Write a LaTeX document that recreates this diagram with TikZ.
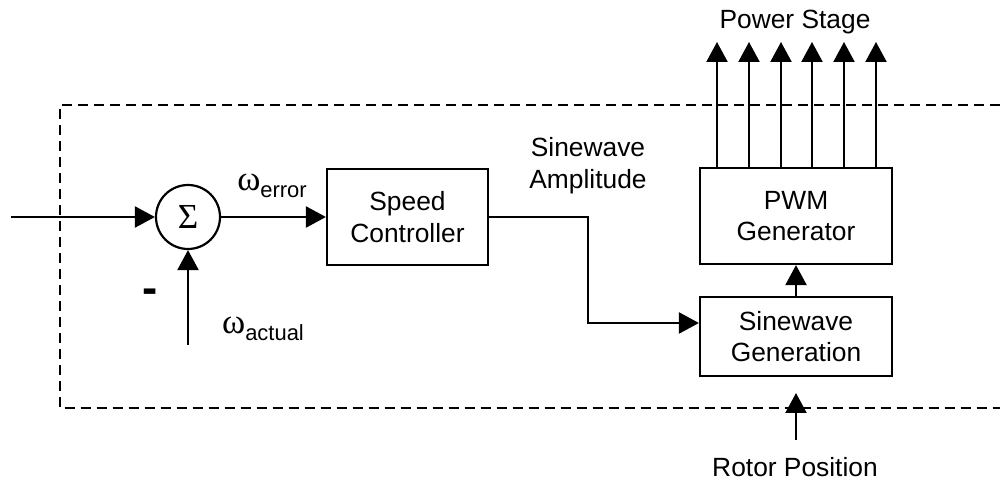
\documentclass[tikz,border=0pt]{standalone}
\usepackage{fontspec}
\setmainfont{Liberation Sans}
\newfontfamily\greekfont{Liberation Serif}
\usetikzlibrary{arrows.meta,positioning}

\begin{document}
\begin{tikzpicture}[x=0.02cm,y=-0.02cm,font=\fontsize{15}{18}\selectfont,
 line width=1.25pt,
 blk/.style={draw,minimum width=3.84cm,minimum height=1.92cm,align=center,inner sep=0pt},
 arr/.style={-{Triangle[length=0.4cm,width=0.42cm]}},
 frame/.style={dashed,dash pattern=on 0.2cm off 0.12cm}]
\useasboundingbox (0,0) rectangle (1000,482);
\draw[frame] (1000,105) -- (60,105) -- (60,408) -- (1000,408);
\node[draw,circle,minimum size=1.28cm,inner sep=0pt,font=\greekfont\fontsize{20}{20}\selectfont] (sum) at (188,217) {Σ};
\node[blk,minimum width=3.22cm] (spd) at (407.5,217) {Speed\\Controller};
\node[blk] (pwm) at (796,216) {PWM\\Generator};
\node[blk,minimum height=1.58cm] (sine) at (796,336.5) {Sinewave\\Generation};
\coordinate (in) at (11,217);
\coordinate (fb) at (188,345);
\coordinate (amp) at (588,323);
\coordinate (rot) at (796,440);
\coordinate (rottip) at (796,393);
\draw[arr] (in) -- (sum);
\draw[arr] (fb) -- (sum);
\draw[arr] (sum) -- (spd);
\draw[arr] (spd.east) -| (amp) -- (sine.west |- amp);
\draw[arr] (sine) -- (pwm);
\draw[arr] (rot) -- (rottip);
\foreach \px [count=\i] in {717,749,781,812,844,876} {
  \coordinate (ps\i) at (\px,42);
  \draw[arr] (pwm.north -| ps\i) -- (ps\i);
}
\node (pstage) at (795,22) {Power Stage};
\node[align=center] (amplbl) at (588,166) {Sinewave\\Amplitude};
\node (werr) at (272,186) {{\greekfont\fontsize{20}{20}\selectfont ω}\raisebox{-0.5ex}{\fontsize{12.5}{14}\selectfont error}};
\node (wact) at (263,329) {{\greekfont\fontsize{20}{20}\selectfont ω}\raisebox{-0.5ex}{\fontsize{12.5}{14}\selectfont actual}};
\node[font=\bfseries\fontsize{26}{26}\selectfont] (minus) at (150,296) {-};
\node (rotlbl) at (795,467) {Rotor Position};
\end{tikzpicture}
\end{document}
